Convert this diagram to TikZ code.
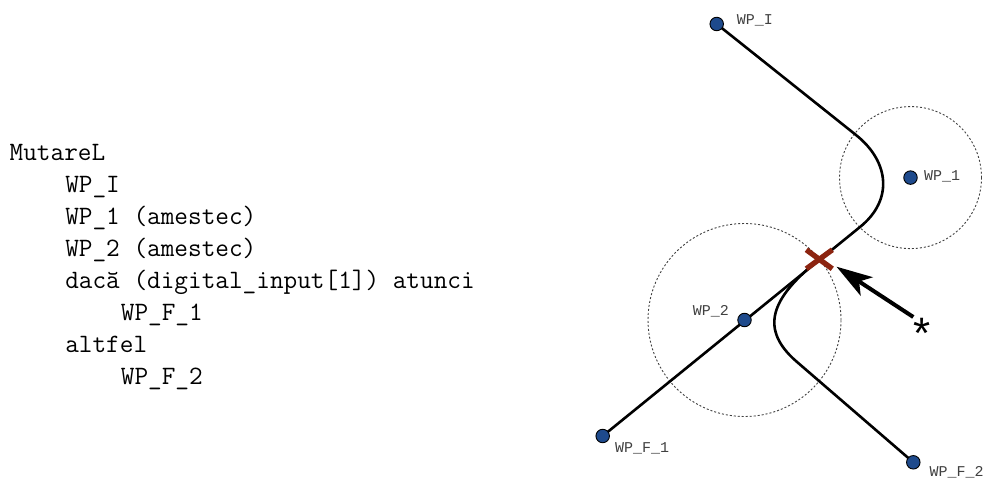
\documentclass[tikz,border=0pt]{standalone}
\usepackage{fontspec}
\newfontfamily\lblfont{Liberation Mono}
\newfontfamily\starfont{Liberation Sans}
\usetikzlibrary{arrows.meta}
\definecolor{wpblue}{RGB}{30,74,140}
\definecolor{xred}{RGB}{140,36,16}
\definecolor{lblgray}{RGB}{64,64,64}
\tikzset{
 wp/.style={circle, draw=black, line width=0.9pt, fill=wpblue, minimum size=13.5pt, inner sep=0pt},
 wplabel/.style={font=\lblfont\fontsize{15}{15}\selectfont, text=lblgray, anchor=base west, inner sep=0pt},
 code/.style={font=\ttfamily\fontsize{26.5}{32}\selectfont, anchor=base west, inner sep=0pt},
 zone/.style={draw=black!75, line width=0.9pt, dash pattern=on 2pt off 2pt},
 route/.style={line width=2.6pt, line join=round},
 crossmark/.style={draw=xred, line width=5.3pt},
 pointer/.style={line width=4pt, -{Stealth[length=36pt,width=22pt,inset=9pt]}},
}
\begin{document}
\begin{tikzpicture}[x=1pt,y=-1pt]
\useasboundingbox (0,0) rectangle (983,481);

% code listing
\node[code] (l1) at (9.5,160.7) {MutareL};
\node[code] (l2) at (65.1,192.7) {WP\_I};
\node[code] (l3) at (65.1,224.7) {WP\_1 (amestec)};
\node[code] (l4) at (65.1,256.7) {WP\_2 (amestec)};
\node[code] (l5) at (65.1,288.7) {dacă (digital\_input[1]) atunci};
\node[code] (l6) at (120.7,320.7) {WP\_F\_1};
\node[code] (l7) at (65.1,352.7) {altfel};
\node[code] (l8) at (120.7,384.7) {WP\_F\_2};

% waypoint positions
\coordinate (cI) at (716.7,24);
\coordinate (c1) at (910.5,177.6);
\coordinate (c2) at (744.5,320);
\coordinate (cF1) at (602.7,436);
\coordinate (cF2) at (913.3,462.3);

% zones
\draw[zone] (c1) circle[radius=71pt];
\draw[zone] (c2) circle[radius=96.5pt];

% routes
\coordinate (p1) at (856,135);
\coordinate (p2) at (860,227);
\coordinate (X) at (819.3,259.3);
\coordinate (q1) at (796.7,361.7);
\draw[route] (cI) -- (p1) .. controls (889.6,161.8) and (893.3,200.2) .. (p2) -- (cF1);
\draw[route] (X) .. controls (776.6,294) and (755.1,325.8) .. (q1) -- (cF2);

% waypoints
\node[wp] (wpI) at (cI) {};
\node[wp] (wp1) at (c1) {};
\node[wp] (wp2) at (c2) {};
\node[wp] (wpF1) at (cF1) {};
\node[wp] (wpF2) at (cF2) {};

% labels
\node[wplabel] (tI) at (736.7,25) {WP\_I};
\node[wplabel] (t1) at (924,180.5) {WP\_1};
\node[wplabel] (t2) at (692.7,315) {WP\_2};
\node[wplabel] (tF1) at (615,452.3) {WP\_F\_1};
\node[wplabel] (tF2) at (929.3,476.7) {WP\_F\_2};

% cross mark
\draw[crossmark] ([shift={(-13,-9.5)}]X) -- ([shift={(13,9.5)}]X);
\draw[crossmark] ([shift={(-13,9.5)}]X) -- ([shift={(13,-9.5)}]X);

% pointer
\coordinate (tail) at (913.3,317);
\coordinate (tip) at (836.5,266.7);
\draw[pointer] (tail) -- (tip);
\node[font=\starfont\fontsize{44}{44}\selectfont, anchor=base, inner sep=0pt] (star) at (922.3,348) {*};
\end{tikzpicture}
\end{document}
